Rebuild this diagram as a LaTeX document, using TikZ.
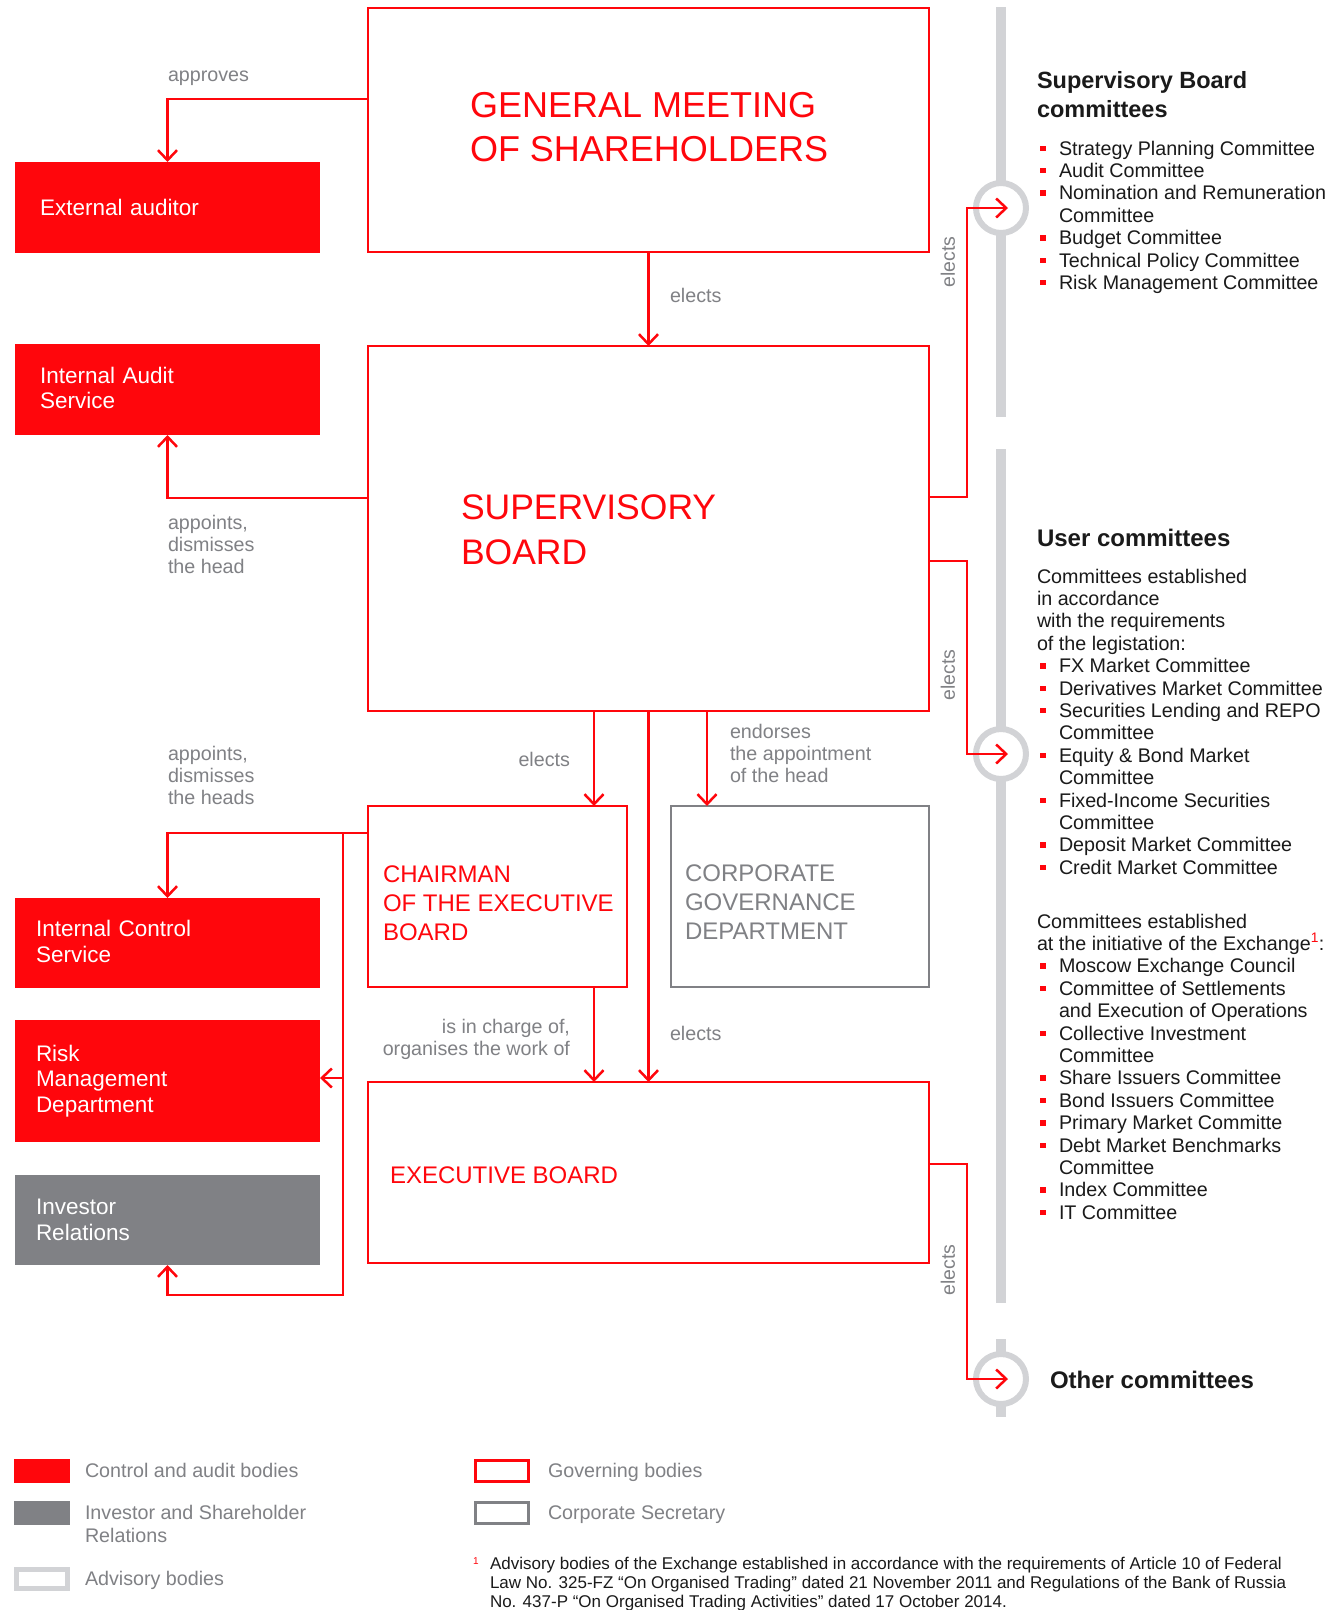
\documentclass[tikz,border=0pt]{standalone}
\usepackage{fontspec}
\setmainfont{Liberation Sans}
\usetikzlibrary{arrows.meta}
\definecolor{myred}{RGB}{255,6,12}
\definecolor{mygray}{RGB}{128,129,133}
\definecolor{mylight}{RGB}{210,211,214}
\definecolor{mydark}{RGB}{26,26,26}
\newcommand\vlines[1]{\vtop{\halign{##\hfil\cr#1\crcr}}}
\newcommand\vlinesR[1]{\vtop{\halign{\hfil##\cr#1\crcr}}}
\newcommand\bul{\hbox to 22pt{\hskip3pt{\color{myred}\rule[4pt]{5.5pt}{5.5pt}}\hfil}}
\newcommand\nob{\hbox to 22pt{\hfil}}
\tikzset{
  gov/.style={draw=myred, line width=2.5pt, anchor=north west, inner sep=0pt, outer sep=0pt},
  sec/.style={draw=mygray, line width=2.5pt, anchor=north west, inner sep=0pt, outer sep=0pt},
  cbox/.style={fill=myred, anchor=north west, inner ysep=0pt, outer sep=0pt, align=left, text=white,
     font=\fontsize{22.5pt}{25.5pt}\selectfont},
  conn/.style={draw=myred, line width=2.5pt},
  arr/.style={conn, -{Straight Barb[length=10pt,width=19pt]}},
  txt/.style={anchor=base west, inner sep=0pt, outer sep=0pt},
  lbl/.style={txt, text=mygray, font=\fontsize{19.7pt}{22.2pt}\selectfont},
  lst/.style={txt, text=mydark, font=\fontsize{19.7pt}{22.4pt}\selectfont},
  ttl/.style={txt, text=mydark, font=\bfseries\fontsize{23.5pt}{29pt}\selectfont},
  rlbl/.style={inner sep=0pt, text=mygray, rotate=90, font=\fontsize{19.5pt}{22pt}\selectfont},
  ring/.style={circle, draw=mylight, line width=6pt, fill=white, minimum size=50pt, inner sep=0pt},
  greyline/.style={draw=mylight, line width=10pt},
}
\begin{document}
\begin{tikzpicture}[x=1pt,y=-1pt]
\useasboundingbox (0,0) rectangle (1329,1610);
\fill[white] (0,0) rectangle (1329,1610);

% grey committee lines
\coordinate (g1a) at (1001,7);    \coordinate (g1b) at (1001,417);
\coordinate (g2a) at (1001,449);  \coordinate (g2b) at (1001,1303);
\coordinate (g3a) at (1001,1339); \coordinate (g3b) at (1001,1417);
\draw[greyline] (g1a) -- (g1b);
\draw[greyline] (g2a) -- (g2b);
\draw[greyline] (g3a) -- (g3b);
\node[ring] (c1) at (1001,208) {};
\node[ring] (c2) at (1001,754) {};
\node[ring] (c3) at (1001,1379) {};

% governing bodies
\node[gov, minimum width=561pt, minimum height=244pt] (gms) at (368,8) {};
\node[gov, minimum width=561pt, minimum height=365pt] (sb) at (368,346) {};
\node[gov, minimum width=259pt, minimum height=181pt] (ch) at (368,806) {};
\node[sec, minimum width=258pt, minimum height=181pt] (cgd) at (671,806) {};
\node[gov, minimum width=561pt, minimum height=181pt] (eb) at (368,1082) {};

\node[txt, text=myred, font=\fontsize{36pt}{44pt}\selectfont] (gmst) at (470,117) {\vlines{GENERAL MEETING\cr OF SHAREHOLDERS}};
\node[txt, text=myred, font=\fontsize{35.5pt}{45pt}\selectfont] (sbt) at (461,519) {\vlines{SUPERVISORY\cr BOARD}};
\node[txt, text=myred, font=\fontsize{24pt}{29pt}\selectfont] (cht) at (383,882) {\vlines{CHAIRMAN\cr OF THE EXECUTIVE\cr BOARD}};
\node[txt, text=mygray, font=\fontsize{24pt}{29pt}\selectfont] (cgdt) at (685,881) {\vlines{CORPORATE\cr GOVERNANCE\cr DEPARTMENT}};
\node[txt, text=myred, font=\fontsize{24pt}{29pt}\selectfont] (ebt) at (390,1183) {EXECUTIVE BOARD};

% control bodies
\node[cbox, minimum width=305pt, minimum height=91pt, inner xsep=25pt, text width=255pt] (ext) at (15,162) {External auditor};
\node[cbox, minimum width=305pt, minimum height=91pt, inner xsep=25pt, text width=255pt] (ias) at (15,344) {\raisebox{3pt}{Internal Audit}\\\raisebox{3pt}{Service}};
\node[cbox, minimum width=305pt, minimum height=90pt, inner xsep=21pt, text width=263pt] (ics) at (15,898) {\raisebox{3pt}{Internal Control}\\\raisebox{3pt}{Service}};
\node[cbox, minimum width=305pt, minimum height=122pt, inner xsep=21pt, text width=263pt] (rmd) at (15,1020) {Risk\\Management\\Department};
\node[cbox, fill=mygray, minimum width=305pt, minimum height=90pt, inner xsep=21pt, text width=263pt] (ir) at (15,1175) {Investor\\Relations};

% connectors
\coordinate (a1) at (368,99);
\draw[arr] (a1) -| (ext.north);
\draw[arr] (gms.south) -- (sb.north);
\coordinate (a2) at (368,498);
\draw[arr] (a2) -| (ias.south);
\coordinate (s1) at (594,711);
\draw[arr] (s1) -- (s1 |- ch.north);
\draw[arr] (sb.south) -- (eb.north);
\coordinate (s3) at (707,711);
\draw[arr] (s3) -- (s3 |- cgd.north);
\coordinate (s4) at (594,987);
\draw[arr] (s4) -- (s4 |- eb.north);
\coordinate (a3) at (368,833);
\draw[arr] (a3) -| (ics.north);
\coordinate (j1) at (343,833);
\coordinate (j2) at (343,1295);
\coordinate (j3) at (343,1078);
\draw[arr] (j1) -- (j2) -| (ir.south);
\draw[arr] (j3) -- (j3 -| rmd.east);

\coordinate (r1) at (929,497);  \coordinate (r1b) at (967,497);  \coordinate (t1) at (1008,208);
\coordinate (r2) at (929,561);  \coordinate (r2b) at (967,561);  \coordinate (t2) at (1008,754);
\coordinate (r3) at (929,1164); \coordinate (r3b) at (967,1164); \coordinate (t3) at (1008,1379);
\draw[arr] (r1) -- (r1b) |- (t1);
\draw[arr] (r2) -- (r2b) |- (t2);
\draw[arr] (r3) -- (r3b) |- (t3);

% labels
\node[lbl] (l1) at (168,81) {approves};
\node[lbl] (l2) at (670,302) {elects};
\node[lbl] (l3) at (168,529) {\vlines{appoints,\cr dismisses\cr the head}};
\node[lbl] (l4) at (168,760) {\vlines{appoints,\cr dismisses\cr the heads}};
\node[lbl, anchor=base east] (l5) at (570,766) {elects};
\node[lbl] (l6) at (730,738) {\vlines{endorses\cr the appointment\cr of the head}};
\node[lbl, anchor=base east] (l7) at (570,1033) {\vlinesR{is in charge of,\cr organises the work of}};
\node[lbl] (l8) at (670,1040) {elects};
\node[rlbl] (l9) at (948,262) {elects};
\node[rlbl] (l10) at (948,675) {elects};
\node[rlbl] (l11) at (948,1270) {elects};

% right column
\node[ttl] (sbct) at (1037,88) {\vlines{Supervisory Board\cr committees}};
\node[lst] (sbcl) at (1037,155) {\vlines{\bul Strategy Planning Committee\cr
\bul Audit Committee\cr
\bul Nomination and Remuneration\cr
\nob Committee\cr
\bul Budget Committee\cr
\bul Technical Policy Committee\cr
\bul Risk Management Committee}};
\node[ttl, font=\bfseries\fontsize{24pt}{29pt}\selectfont] (uct) at (1037,546) {User committees};
\node[lst] (ucl1) at (1037,583) {\vlines{Committees established\cr
in accordance\cr
with the requirements\cr
of the legistation:\cr
\bul FX Market Committee\cr
\bul Derivatives Market Committee\cr
\bul Securities Lending and REPO\cr
\nob Committee\cr
\bul Equity \& Bond Market\cr
\nob Committee\cr
\bul Fixed-Income Securities\cr
\nob Committee\cr
\bul Deposit Market Committee\cr
\bul Credit Market Committee}};
\node[lst] (ucl2) at (1037,928) {\vlines{Committees established\cr
at the initiative of the Exchange\textsuperscript{\color{myred}1}:\cr
\bul Moscow Exchange Council\cr
\bul Committee of Settlements\cr
\nob and Execution of Operations\cr
\bul Collective Investment\cr
\nob Committee\cr
\bul Share Issuers Committee\cr
\bul Bond Issuers Committee\cr
\bul Primary Market Committe\cr
\bul Debt Market Benchmarks\cr
\nob Committee\cr
\bul Index Committee\cr
\bul IT Committee}};
\node[ttl, font=\bfseries\fontsize{24pt}{29pt}\selectfont] (oth) at (1050,1388) {Other committees};

% legend
\node[fill=myred, anchor=north west, inner sep=0pt, outer sep=0pt, minimum width=56pt, minimum height=24pt] (lg1) at (14,1459) {};
\node[fill=mygray, anchor=north west, inner sep=0pt, outer sep=0pt, minimum width=56pt, minimum height=24pt] (lg2) at (14,1501) {};
\node[draw=mylight, line width=5pt, anchor=north west, inner sep=0pt, outer sep=0pt, minimum width=51pt, minimum height=19pt] (lg3) at (16.5,1569.5) {};
\node[draw=myred, line width=3pt, anchor=north west, inner sep=0pt, outer sep=0pt, minimum width=53pt, minimum height=21pt] (lg4) at (475.5,1460.5) {};
\node[draw=mygray, line width=3pt, anchor=north west, inner sep=0pt, outer sep=0pt, minimum width=53pt, minimum height=21pt] (lg5) at (475.5,1502.5) {};
\node[lbl] (lt1) at (85,1477) {Control and audit bodies};
\node[lbl, font=\fontsize{19.7pt}{23pt}\selectfont] (lt2) at (85,1519) {\vlines{Investor and Shareholder\cr Relations}};
\node[lbl] (lt3) at (85,1585) {Advisory bodies};
\node[lbl] (lt4) at (548,1477) {Governing bodies};
\node[lbl] (lt5) at (548,1519) {Corporate Secretary};
\node[txt, text=myred, font=\fontsize{10pt}{12pt}\selectfont] (fn1) at (473,1564) {1};
\node[txt, text=mydark, font=\fontsize{17pt}{19pt}\selectfont] (fnt) at (490,1569) {\vlines{Advisory bodies of the Exchange established in accordance with the requirements of Article 10 of Federal\cr
Law No. 325-FZ “On Organised Trading” dated 21 November 2011 and Regulations of the Bank of Russia\cr
No. 437-P “On Organised Trading Activities” dated 17 October 2014.}};
\end{tikzpicture}
\end{document}
